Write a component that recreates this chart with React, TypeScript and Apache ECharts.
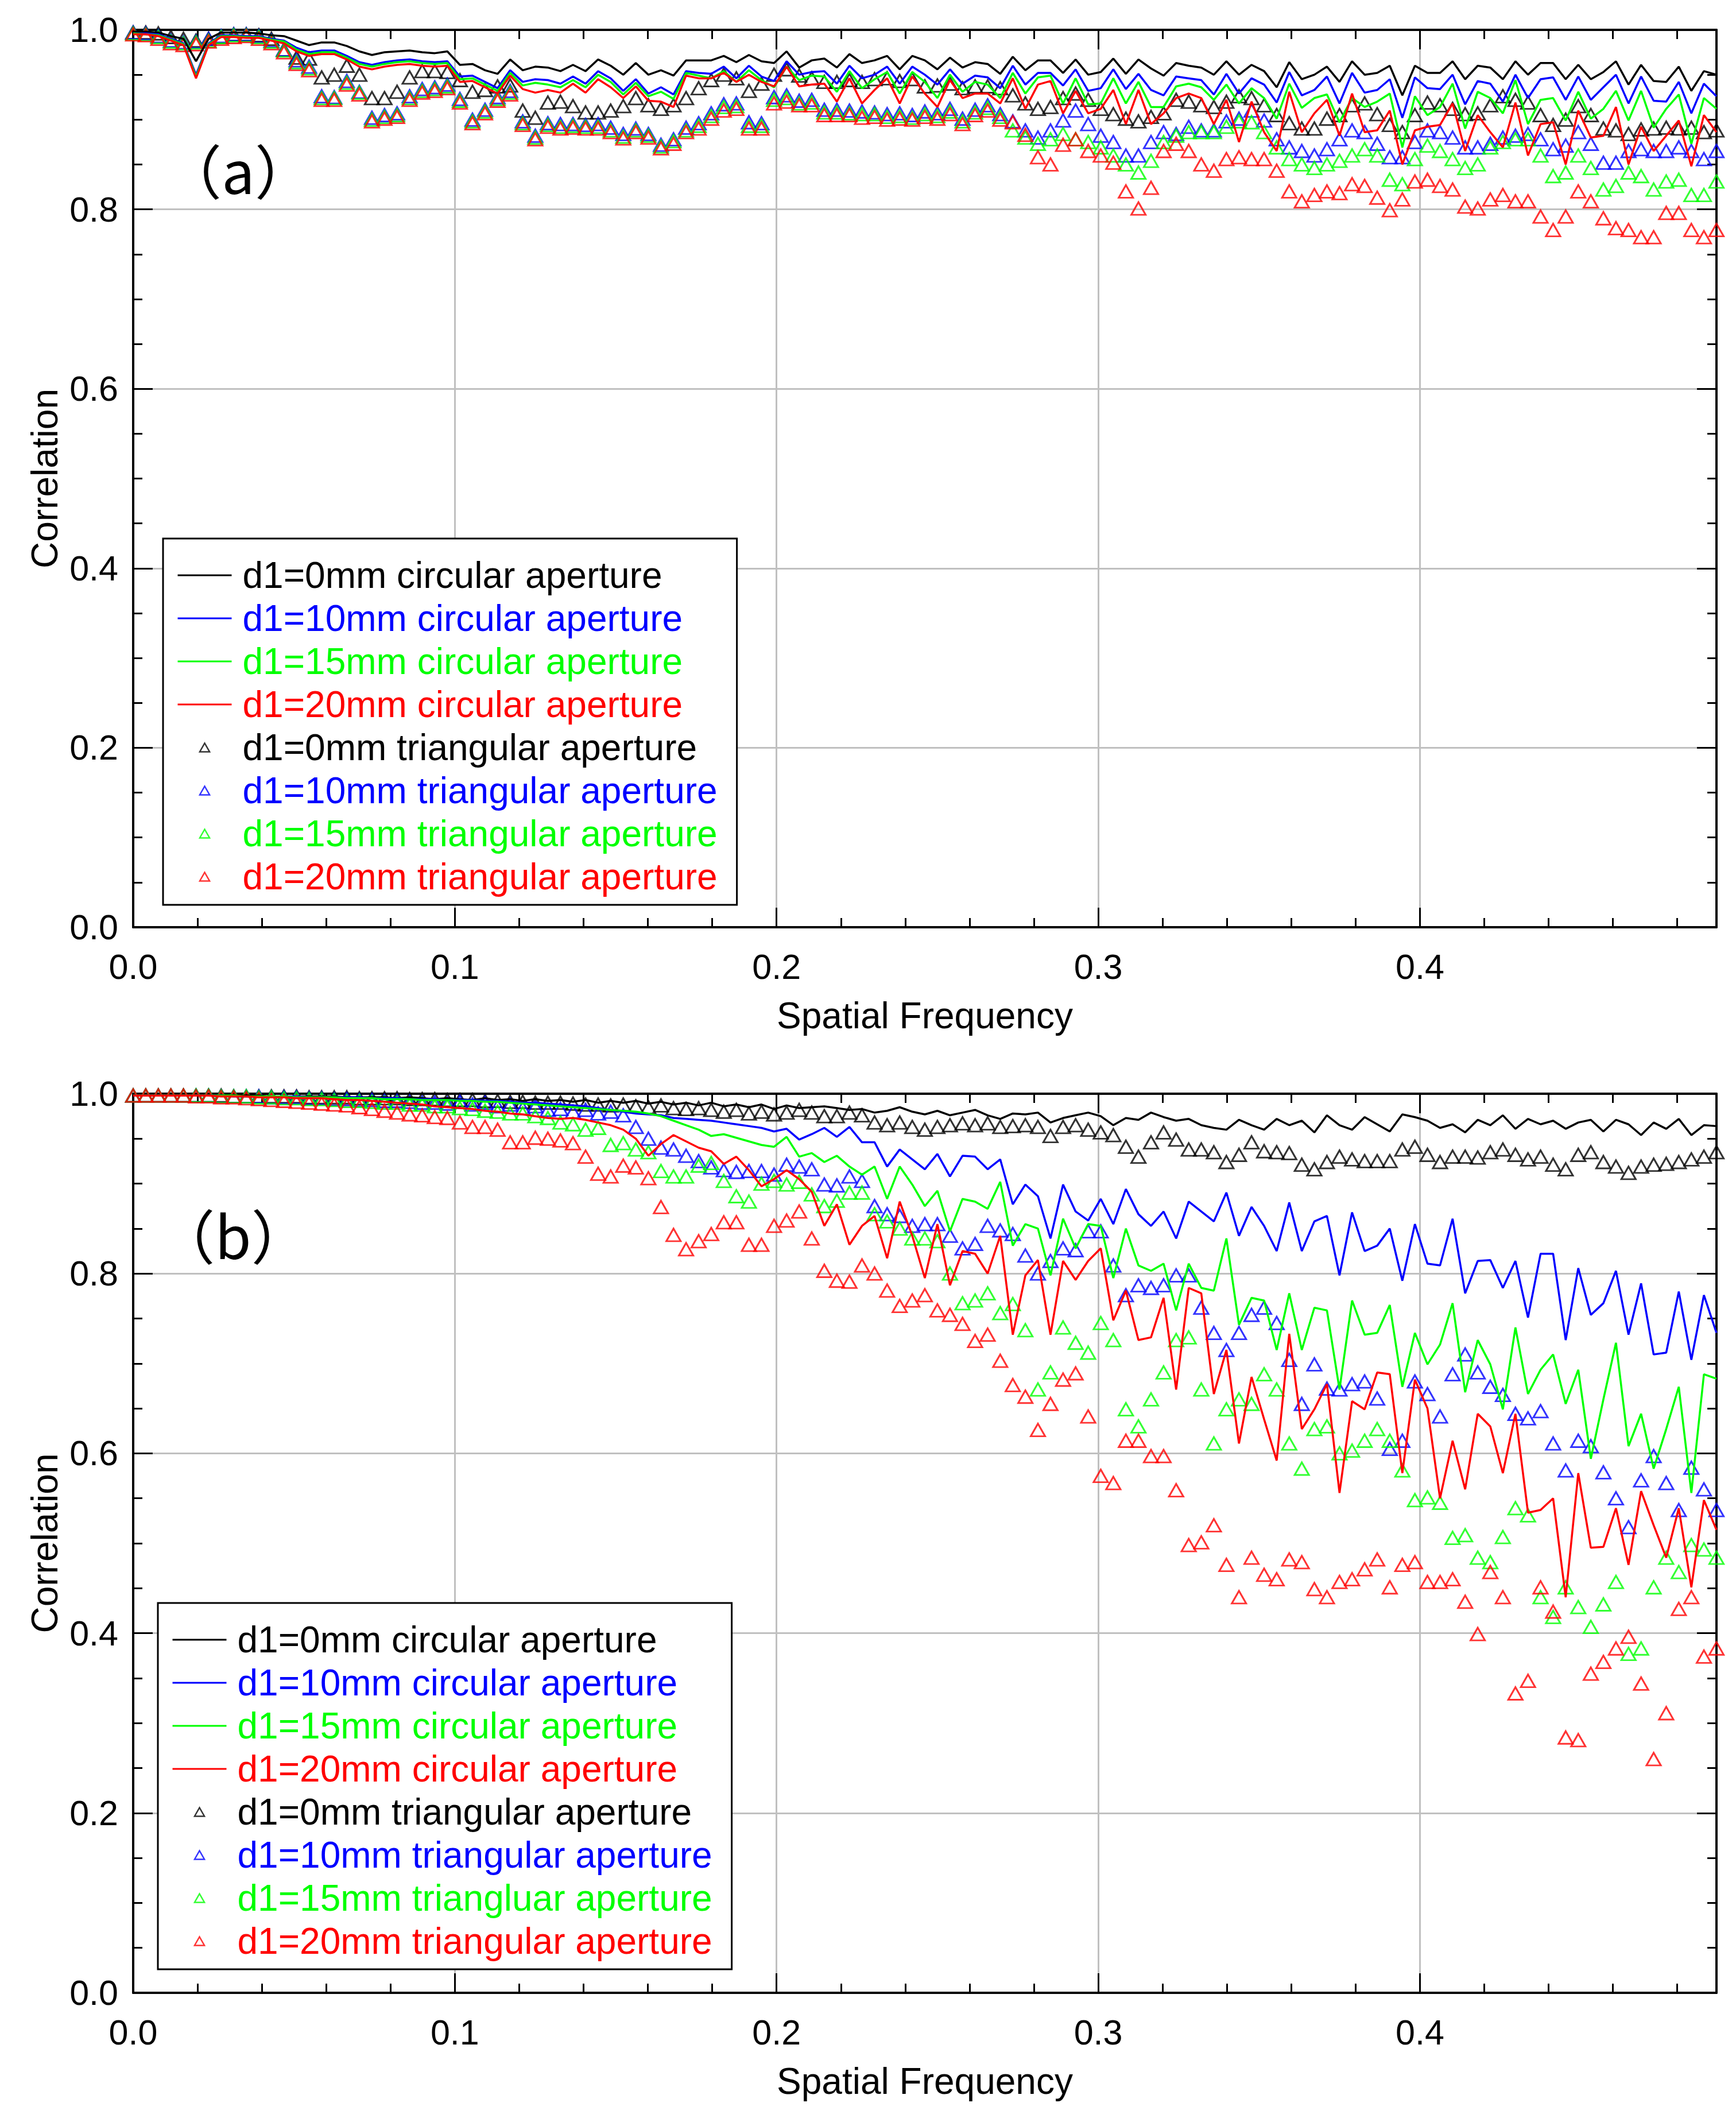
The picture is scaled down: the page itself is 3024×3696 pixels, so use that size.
import { useEffect, useRef } from "react";
import * as echarts from "echarts";

// sample spacing of the spatial frequency axis (k / 256, k = 0..126)
const FREQ_STEP = 1 / 256;
const FREQ_MAX = 126 / 256;

const colors = ["#000000", "#0000ff", "#00ff00", "#ff0000"];

const namesA = [
  "d1=0mm circular aperture",
  "d1=10mm circular aperture",
  "d1=15mm circular aperture",
  "d1=20mm circular aperture",
  "d1=0mm triangular aperture",
  "d1=10mm triangular aperture",
  "d1=15mm triangular aperture",
  "d1=20mm triangular aperture",
];
const namesB = [
  "d1=0mm circular aperture",
  "d1=10mm circular aperture",
  "d1=15mm circular aperture",
  "d1=20mm circular aperture",
  "d1=0mm triangular aperture",
  "d1=10mm triangular aperture",
  "d1=15mm triangluar aperture",
  "d1=20mm triangular aperture",
];

// ---- panel (a) ----
const circA0 = [
  0.998, 0.998, 0.997, 0.993, 0.990, 0.965, 0.990, 0.997, 0.997, 0.997, 0.996, 0.994, 0.993, 0.988, 0.983, 0.986, 0.986, 0.982, 0.976, 0.972,
  0.975, 0.976, 0.977, 0.975, 0.974, 0.976, 0.961, 0.962, 0.955, 0.951, 0.967, 0.955, 0.959, 0.958, 0.954, 0.961, 0.954, 0.967, 0.960, 0.950, 0.963,
  0.950, 0.955, 0.949, 0.966, 0.966, 0.966, 0.971, 0.964, 0.972, 0.965, 0.963, 0.976, 0.958, 0.966, 0.968, 0.958, 0.973, 0.963, 0.966, 0.971,
  0.956, 0.971, 0.966, 0.956, 0.969, 0.958, 0.964, 0.962, 0.951, 0.970, 0.955, 0.966, 0.966, 0.952, 0.967, 0.950, 0.953, 0.968, 0.951, 0.967,
  0.957, 0.949, 0.963,
  0.960, 0.958, 0.950, 0.965, 0.950, 0.961, 0.954, 0.936, 0.964, 0.945, 0.950, 0.959, 0.942, 0.965, 0.950, 0.952, 0.960, 0.927, 0.960, 0.952,
  0.952, 0.965, 0.945, 0.960, 0.958, 0.945, 0.965, 0.950, 0.963, 0.963, 0.945, 0.961, 0.945, 0.953, 0.965, 0.939, 0.961, 0.943, 0.942, 0.959,
  0.932, 0.954, 0.950,
];
const circA10 = [
  0.996, 0.996, 0.995, 0.990, 0.985, 0.950, 0.985, 0.994, 0.994, 0.993, 0.993, 0.990, 0.988, 0.980, 0.975, 0.977, 0.977, 0.971, 0.964, 0.961,
  0.964, 0.966, 0.967, 0.965, 0.964, 0.965, 0.948, 0.949, 0.942, 0.935, 0.955, 0.942, 0.945, 0.944, 0.940, 0.948, 0.940, 0.954, 0.946, 0.932, 0.945,
  0.929, 0.936, 0.928, 0.954, 0.952, 0.951, 0.959, 0.946, 0.960, 0.948, 0.943, 0.965, 0.950, 0.953, 0.954, 0.940, 0.960, 0.946, 0.950, 0.959,
  0.940, 0.959, 0.950, 0.939, 0.956, 0.940, 0.949, 0.947, 0.935, 0.960, 0.939, 0.952, 0.952, 0.938, 0.956, 0.932, 0.935, 0.956, 0.934, 0.951,
  0.933, 0.927, 0.948,
  0.946, 0.944, 0.928, 0.951, 0.929, 0.946, 0.939, 0.919, 0.953, 0.927, 0.933, 0.948, 0.918, 0.952, 0.930, 0.933, 0.945, 0.902, 0.947, 0.935,
  0.934, 0.950, 0.917, 0.943, 0.940, 0.920, 0.950, 0.924, 0.945, 0.947, 0.922, 0.948, 0.922, 0.936, 0.950, 0.918, 0.948, 0.921, 0.920, 0.942,
  0.907, 0.940, 0.926,
];
const circA15 = [
  0.996, 0.995, 0.994, 0.989, 0.984, 0.948, 0.984, 0.993, 0.993, 0.992, 0.992, 0.989, 0.987, 0.978, 0.973, 0.975, 0.975, 0.969, 0.962, 0.959,
  0.962, 0.964, 0.965, 0.963, 0.962, 0.963, 0.945, 0.946, 0.939, 0.932, 0.952, 0.938, 0.941, 0.939, 0.936, 0.944, 0.936, 0.950, 0.942, 0.928, 0.941,
  0.926, 0.931, 0.923, 0.952, 0.949, 0.946, 0.954, 0.942, 0.955, 0.944, 0.936, 0.959, 0.944, 0.949, 0.948, 0.931, 0.954, 0.935, 0.945, 0.953,
  0.929, 0.953, 0.942, 0.924, 0.950, 0.931, 0.942, 0.939, 0.924, 0.952, 0.929, 0.947, 0.949, 0.918, 0.946, 0.917, 0.918, 0.946, 0.918, 0.942,
  0.914, 0.914, 0.937,
  0.940, 0.936, 0.922, 0.939, 0.918, 0.935, 0.924, 0.901, 0.940, 0.913, 0.924, 0.928, 0.897, 0.924, 0.914, 0.920, 0.929, 0.869, 0.926, 0.905,
  0.914, 0.940, 0.890, 0.931, 0.924, 0.907, 0.944, 0.895, 0.922, 0.924, 0.899, 0.931, 0.901, 0.912, 0.932, 0.899, 0.932, 0.891, 0.912, 0.928,
  0.873, 0.924, 0.912,
];
const circA20 = [
  0.995, 0.995, 0.993, 0.988, 0.983, 0.946, 0.983, 0.992, 0.992, 0.991, 0.991, 0.988, 0.985, 0.976, 0.971, 0.973, 0.973, 0.967, 0.959, 0.956,
  0.959, 0.961, 0.962, 0.960, 0.959, 0.960, 0.942, 0.943, 0.936, 0.929, 0.949, 0.934, 0.930, 0.933, 0.930, 0.940, 0.930, 0.945, 0.936, 0.924, 0.937,
  0.921, 0.920, 0.914, 0.949, 0.946, 0.946, 0.952, 0.942, 0.950, 0.942, 0.937, 0.959, 0.937, 0.939, 0.940, 0.920, 0.946, 0.918, 0.933, 0.946,
  0.918, 0.948, 0.929, 0.914, 0.944, 0.924, 0.929, 0.929, 0.918, 0.946, 0.912, 0.939, 0.943, 0.907, 0.932, 0.907, 0.912, 0.933, 0.895, 0.933,
  0.895, 0.907, 0.924,
  0.929, 0.924, 0.895, 0.922, 0.875, 0.920, 0.886, 0.865, 0.931, 0.886, 0.907, 0.922, 0.882, 0.929, 0.886, 0.888, 0.910, 0.850, 0.888, 0.892,
  0.894, 0.918, 0.865, 0.905, 0.886, 0.869, 0.919, 0.860, 0.895, 0.897, 0.850, 0.910, 0.880, 0.882, 0.914, 0.850, 0.892, 0.865, 0.882, 0.899,
  0.848, 0.905, 0.886,
];
const triA0 = [
  0.997, 0.997, 0.996, 0.992, 0.990, 0.988, 0.990, 0.992, 0.995, 0.995, 0.994, 0.990, 0.978, 0.969, 0.968, 0.947, 0.950, 0.960, 0.950, 0.924,
  0.924, 0.931, 0.947, 0.954, 0.954, 0.953, 0.944, 0.931, 0.933, 0.937, 0.938, 0.910, 0.902, 0.919, 0.920, 0.915, 0.908, 0.908, 0.910, 0.915, 0.924,
  0.916, 0.912, 0.916, 0.924, 0.935, 0.944, 0.950, 0.946, 0.932, 0.940, 0.950, 0.956, 0.949, 0.946, 0.942, 0.942, 0.944, 0.942, 0.945, 0.946,
  0.943, 0.945, 0.937, 0.938, 0.940, 0.935, 0.937, 0.937, 0.935, 0.927, 0.918, 0.912, 0.914, 0.924, 0.929, 0.922, 0.912, 0.906, 0.901, 0.898,
  0.903, 0.907, 0.922,
  0.920, 0.916, 0.914, 0.920, 0.926, 0.924, 0.916, 0.905, 0.896, 0.890, 0.890, 0.901, 0.905, 0.916, 0.918, 0.906, 0.894, 0.886, 0.905, 0.919,
  0.916, 0.912, 0.906, 0.907, 0.916, 0.926, 0.922, 0.919, 0.905, 0.894, 0.900, 0.915, 0.905, 0.890, 0.888, 0.884, 0.889, 0.890, 0.891, 0.890,
  0.891, 0.886, 0.888,
];
const triA10 = [
  0.997, 0.996, 0.993, 0.988, 0.986, 0.987, 0.990, 0.993, 0.995, 0.995, 0.993, 0.988, 0.978, 0.966, 0.959, 0.926, 0.925, 0.943, 0.931, 0.902,
  0.905, 0.907, 0.926, 0.934, 0.936, 0.939, 0.923, 0.900, 0.911, 0.925, 0.932, 0.898, 0.882, 0.896, 0.895, 0.895, 0.894, 0.895, 0.891, 0.884,
  0.890, 0.884, 0.872, 0.878, 0.891, 0.896, 0.907, 0.917, 0.918, 0.897, 0.896, 0.925, 0.927, 0.921, 0.922, 0.911, 0.911, 0.910, 0.909, 0.908,
  0.906, 0.907, 0.905, 0.909, 0.907, 0.912, 0.901, 0.911, 0.916, 0.906,
  0.898, 0.888, 0.880, 0.888, 0.899, 0.910, 0.895, 0.882, 0.875, 0.860, 0.860, 0.875, 0.886, 0.884,
  0.892, 0.888, 0.888, 0.898, 0.901, 0.910, 0.899, 0.878, 0.869, 0.865, 0.860, 0.867, 0.878, 0.888, 0.886, 0.873, 0.858, 0.858, 0.875, 0.888,
  0.886, 0.880, 0.869, 0.869, 0.873, 0.880, 0.882, 0.884, 0.878, 0.867, 0.871, 0.886, 0.873, 0.852, 0.852, 0.865, 0.867, 0.865, 0.865, 0.869,
  0.865, 0.856, 0.865,
];
const triA15 = [
  0.996, 0.995, 0.992, 0.987, 0.985, 0.986, 0.988, 0.992, 0.994, 0.994, 0.992, 0.987, 0.977, 0.964, 0.957, 0.924, 0.924, 0.941, 0.930, 0.900,
  0.903, 0.905, 0.924, 0.932, 0.934, 0.937, 0.921, 0.898, 0.909, 0.923, 0.930, 0.896, 0.880, 0.894, 0.892, 0.893, 0.892, 0.892, 0.888, 0.881,
  0.888, 0.882, 0.870, 0.876, 0.888, 0.893, 0.904, 0.914, 0.915, 0.893, 0.893, 0.922, 0.924, 0.918, 0.919, 0.908, 0.908, 0.907, 0.906, 0.906,
  0.903, 0.904, 0.902, 0.906, 0.904, 0.909, 0.898, 0.908, 0.913, 0.903,
  0.888, 0.880, 0.873, 0.878, 0.884, 0.878, 0.875, 0.869, 0.860, 0.850, 0.841, 0.854, 0.875, 0.882,
  0.886, 0.886, 0.886, 0.892, 0.898, 0.897, 0.886, 0.869, 0.856, 0.850, 0.846, 0.850, 0.854, 0.860, 0.867, 0.860, 0.833, 0.828, 0.856, 0.871,
  0.865, 0.856, 0.846, 0.850, 0.869, 0.875, 0.878, 0.878, 0.860, 0.837, 0.841, 0.860, 0.846, 0.822, 0.826, 0.841, 0.837, 0.822, 0.831, 0.833,
  0.816, 0.816, 0.831,
];
const triA20 = [
  0.995, 0.994, 0.990, 0.985, 0.983, 0.984, 0.987, 0.990, 0.992, 0.993, 0.990, 0.985, 0.975, 0.962, 0.955, 0.922, 0.922, 0.939, 0.928, 0.898,
  0.901, 0.903, 0.922, 0.930, 0.932, 0.935, 0.919, 0.896, 0.907, 0.921, 0.928, 0.894, 0.878, 0.892, 0.890, 0.891, 0.890, 0.890, 0.886, 0.879,
  0.886, 0.880, 0.868, 0.873, 0.886, 0.890, 0.901, 0.910, 0.912, 0.890, 0.890, 0.918, 0.920, 0.916, 0.916, 0.905, 0.905, 0.905, 0.902, 0.903,
  0.900, 0.901, 0.900, 0.903, 0.901, 0.906, 0.895, 0.905, 0.910, 0.900,
  0.897, 0.883, 0.858, 0.850, 0.872, 0.878, 0.865, 0.860, 0.852, 0.820, 0.801, 0.824, 0.865, 0.873,
  0.865, 0.850, 0.843, 0.856, 0.858, 0.856, 0.856, 0.843, 0.820, 0.809, 0.816, 0.820, 0.818, 0.828, 0.826, 0.813, 0.799, 0.811, 0.831, 0.833,
  0.826, 0.822, 0.803, 0.801, 0.811, 0.816, 0.809, 0.809, 0.792, 0.777, 0.792, 0.820, 0.809, 0.790, 0.779, 0.777, 0.769, 0.769, 0.796, 0.796,
  0.777, 0.769, 0.777,
];

// ---- panel (b) ----
const circB0 = [
  0.998, 0.998, 0.998, 0.998, 0.998, 0.998, 0.998, 0.998, 0.998, 0.998, 0.998, 0.997, 0.997, 0.997, 0.997, 0.997, 0.997, 0.996, 0.996, 0.996,
  0.996, 0.995, 0.996, 0.995, 0.994, 0.995, 0.994, 0.993, 0.995, 0.993, 0.994, 0.992, 0.994, 0.992, 0.993, 0.991, 0.993, 0.990, 0.992, 0.990,
  0.992, 0.989, 0.991, 0.988, 0.990, 0.987, 0.990, 0.986, 0.988, 0.985, 0.988, 0.983, 0.987, 0.984,
  0.985, 0.986, 0.984, 0.982, 0.983, 0.979, 0.981, 0.985, 0.980, 0.977, 0.981, 0.976, 0.979, 0.982, 0.976, 0.972, 0.978, 0.977, 0.979, 0.968,
  0.973, 0.976, 0.979, 0.975, 0.965, 0.973, 0.971, 0.979, 0.974, 0.970, 0.972, 0.965, 0.962, 0.960, 0.971, 0.965, 0.960, 0.972, 0.965, 0.970,
  0.957, 0.976, 0.965, 0.960, 0.974, 0.966, 0.958, 0.977, 0.974, 0.970, 0.962, 0.966, 0.957, 0.971, 0.965, 0.976, 0.961, 0.972, 0.966, 0.970,
  0.961, 0.968, 0.971, 0.958, 0.971, 0.966, 0.954, 0.968, 0.961, 0.972, 0.954, 0.965, 0.964,
];
const circB10 = [
  0.998, 0.998, 0.998, 0.998, 0.998, 0.998, 0.998, 0.998, 0.997, 0.997, 0.997, 0.997, 0.997, 0.997, 0.996, 0.996, 0.996, 0.996, 0.996, 0.995,
  0.995, 0.995, 0.994, 0.994, 0.994, 0.993, 0.993, 0.993, 0.992, 0.992, 0.991, 0.990, 0.990, 0.989, 0.988, 0.987, 0.986, 0.984, 0.982, 0.980,
  0.978, 0.977, 0.976, 0.973, 0.972, 0.971, 0.970, 0.968, 0.966, 0.964, 0.962, 0.958, 0.961,
  0.949, 0.955, 0.962, 0.952, 0.963, 0.946, 0.946, 0.919, 0.938, 0.927, 0.916, 0.933, 0.908, 0.931, 0.930, 0.916, 0.927, 0.877, 0.899, 0.886,
  0.839, 0.899, 0.869, 0.859, 0.883, 0.855, 0.894, 0.866, 0.853, 0.869, 0.839, 0.880, 0.869, 0.858, 0.890, 0.842, 0.874, 0.853, 0.825, 0.879,
  0.825, 0.858, 0.864, 0.798, 0.868, 0.825, 0.831, 0.850, 0.792, 0.855, 0.811, 0.809, 0.861, 0.778, 0.814, 0.815, 0.784, 0.814, 0.751, 0.822,
  0.822, 0.726, 0.806, 0.754, 0.767, 0.803, 0.732, 0.789, 0.710, 0.712, 0.780, 0.704, 0.776, 0.734,
];
const circB15 = [
  0.998, 0.998, 0.998, 0.998, 0.998, 0.998, 0.998, 0.998, 0.998, 0.997, 0.997, 0.997, 0.997, 0.996, 0.996, 0.996, 0.996, 0.995, 0.995, 0.995,
  0.994, 0.994, 0.994, 0.993, 0.993, 0.993, 0.992, 0.992, 0.991, 0.991, 0.990, 0.989, 0.988, 0.987, 0.986, 0.985, 0.984, 0.983, 0.982, 0.981,
  0.980, 0.978, 0.975, 0.970, 0.965, 0.960, 0.953, 0.955, 0.951, 0.947, 0.943, 0.941, 0.952,
  0.930, 0.934, 0.924, 0.931, 0.919, 0.910, 0.919, 0.883, 0.919, 0.899, 0.875, 0.892, 0.847, 0.883, 0.880, 0.872, 0.902, 0.831, 0.855, 0.850,
  0.798, 0.861, 0.828, 0.855, 0.853, 0.795, 0.850, 0.809, 0.803, 0.811, 0.759, 0.811, 0.784, 0.781, 0.839, 0.743, 0.773, 0.770, 0.715, 0.778,
  0.715, 0.762, 0.759, 0.671, 0.770, 0.732, 0.734, 0.765, 0.674, 0.734, 0.699, 0.721, 0.767, 0.668, 0.726, 0.699, 0.649, 0.740, 0.666, 0.693,
  0.710, 0.655, 0.693, 0.594, 0.660, 0.723, 0.608, 0.644, 0.583, 0.627, 0.674, 0.556, 0.688, 0.683,
];
const circB20 = [
  0.998, 0.998, 0.998, 0.998, 0.998, 0.998, 0.998, 0.997, 0.997, 0.997, 0.996, 0.996, 0.996, 0.995, 0.995, 0.995, 0.994, 0.993, 0.993, 0.992,
  0.991, 0.990, 0.989, 0.988, 0.986, 0.985, 0.984, 0.983, 0.981, 0.980, 0.978, 0.977, 0.975, 0.973, 0.972, 0.973, 0.971, 0.968, 0.965, 0.960,
  0.950, 0.931, 0.944, 0.954, 0.947, 0.940, 0.936, 0.922, 0.930, 0.915, 0.897, 0.905, 0.915,
  0.905, 0.891, 0.853, 0.877, 0.832, 0.853, 0.864, 0.817, 0.880, 0.842, 0.795, 0.855, 0.787, 0.825, 0.822, 0.800, 0.842, 0.732, 0.798, 0.815,
  0.732, 0.814, 0.793, 0.814, 0.828, 0.748, 0.781, 0.726, 0.729, 0.773, 0.671, 0.784, 0.778, 0.666, 0.715, 0.611, 0.685, 0.638, 0.592, 0.733,
  0.627, 0.649, 0.677, 0.556, 0.658, 0.649, 0.690, 0.688, 0.578, 0.682, 0.650, 0.550, 0.614, 0.560, 0.644, 0.630, 0.578, 0.644, 0.534, 0.537,
  0.550, 0.440, 0.578, 0.495, 0.496, 0.539, 0.476, 0.558, 0.520, 0.484, 0.539, 0.451, 0.548, 0.515,
];
const triB0 = [
  0.998, 0.998, 0.998, 0.998, 0.998, 0.998, 0.998, 0.998, 0.997, 0.997, 0.997, 0.997, 0.997, 0.997, 0.996, 0.996, 0.996, 0.996, 0.995, 0.995,
  0.995, 0.995, 0.994, 0.994, 0.994, 0.993, 0.993, 0.993, 0.992, 0.992, 0.991, 0.991, 0.990, 0.990, 0.990, 0.989, 0.988, 0.988, 0.987, 0.988,
  0.986, 0.985, 0.987, 0.984, 0.983, 0.984, 0.982, 0.980, 0.982, 0.978, 0.980, 0.977, 0.979,
  0.982, 0.979, 0.975, 0.975, 0.979, 0.976, 0.968, 0.965, 0.968, 0.963, 0.960, 0.963, 0.965, 0.967, 0.965, 0.967, 0.963, 0.964, 0.965, 0.963,
  0.953, 0.963, 0.965, 0.960, 0.957, 0.954, 0.941, 0.930, 0.946, 0.957, 0.949, 0.938, 0.938, 0.935, 0.924, 0.932, 0.946, 0.936, 0.935, 0.934,
  0.921, 0.916, 0.924, 0.930, 0.927, 0.925, 0.925, 0.925, 0.938, 0.941, 0.932, 0.924, 0.930, 0.930, 0.929, 0.935, 0.938, 0.932, 0.927, 0.930,
  0.921, 0.916, 0.932, 0.935, 0.924, 0.919, 0.912, 0.919, 0.921, 0.922, 0.924, 0.927, 0.930, 0.935,
];
const triB10 = [
  0.998, 0.998, 0.998, 0.998, 0.998, 0.998, 0.998, 0.997, 0.997, 0.997, 0.997, 0.996, 0.996, 0.996, 0.995, 0.995, 0.994, 0.994, 0.993, 0.993,
  0.992, 0.992, 0.991, 0.990, 0.990, 0.989, 0.991, 0.988, 0.990, 0.986, 0.988, 0.984, 0.986, 0.982, 0.983, 0.980, 0.982, 0.978, 0.980, 0.976,
  0.963, 0.950, 0.940, 0.938, 0.931, 0.925, 0.918, 0.915, 0.913, 0.914, 0.914, 0.910, 0.921,
  0.919, 0.916, 0.899, 0.898, 0.908, 0.903, 0.875, 0.866, 0.864, 0.853, 0.855, 0.855, 0.842, 0.828, 0.833, 0.853, 0.848, 0.844, 0.820, 0.800,
  0.814, 0.828, 0.826, 0.847, 0.847, 0.809, 0.776, 0.787, 0.784, 0.787, 0.798, 0.798, 0.762, 0.734, 0.715, 0.734, 0.754, 0.762, 0.745, 0.704,
  0.655, 0.699, 0.672, 0.671, 0.677, 0.680, 0.661, 0.605, 0.614, 0.680, 0.666, 0.641, 0.688, 0.710, 0.690, 0.674, 0.665, 0.644, 0.639, 0.647,
  0.611, 0.581, 0.614, 0.608, 0.579, 0.550, 0.518, 0.570, 0.597, 0.567, 0.537, 0.584, 0.560, 0.537,
];
const triB15 = [
  0.998, 0.998, 0.998, 0.998, 0.998, 0.998, 0.998, 0.997, 0.997, 0.997, 0.996, 0.996, 0.995, 0.995, 0.994, 0.994, 0.993, 0.992, 0.992, 0.991,
  0.990, 0.990, 0.988, 0.988, 0.986, 0.986, 0.984, 0.983, 0.981, 0.980, 0.978, 0.978, 0.975, 0.973, 0.968, 0.966, 0.960, 0.962, 0.943, 0.945,
  0.938, 0.935, 0.914, 0.908, 0.908, 0.920, 0.923, 0.903, 0.886, 0.880, 0.900, 0.903, 0.899,
  0.902, 0.888, 0.875, 0.881, 0.890, 0.890, 0.866, 0.858, 0.850, 0.839, 0.839, 0.836, 0.800, 0.767, 0.770, 0.778, 0.756, 0.766, 0.737, 0.671,
  0.690, 0.740, 0.723, 0.712, 0.745, 0.726, 0.649, 0.630, 0.660, 0.690, 0.726, 0.729, 0.671, 0.611, 0.649, 0.660, 0.655, 0.688, 0.671, 0.611,
  0.583, 0.627, 0.630, 0.600, 0.603, 0.614, 0.627, 0.614, 0.581, 0.548, 0.551, 0.545, 0.506, 0.509, 0.484, 0.479, 0.507, 0.539, 0.531, 0.440,
  0.418, 0.451, 0.429, 0.407, 0.432, 0.457, 0.377, 0.383, 0.451, 0.484, 0.468, 0.498, 0.493, 0.484,
];
const triB20 = [
  0.998, 0.998, 0.998, 0.998, 0.998, 0.997, 0.997, 0.996, 0.996, 0.995, 0.994, 0.993, 0.992,
  0.991, 0.990, 0.989, 0.988, 0.987, 0.985, 0.983, 0.981, 0.979, 0.977, 0.976, 0.974, 0.973, 0.968, 0.963, 0.963, 0.960, 0.946, 0.946, 0.951,
  0.950, 0.948, 0.945, 0.930, 0.911, 0.908, 0.920, 0.918, 0.906, 0.874, 0.843, 0.827, 0.836, 0.844, 0.857, 0.857, 0.832, 0.832, 0.853, 0.859,
  0.869, 0.839, 0.803, 0.792, 0.791, 0.809, 0.800, 0.781, 0.764, 0.770, 0.776, 0.759, 0.754, 0.744, 0.725, 0.732, 0.703, 0.676, 0.663, 0.626,
  0.655, 0.682, 0.689, 0.641, 0.575, 0.567, 0.614, 0.614, 0.597, 0.597, 0.559, 0.498, 0.501, 0.520, 0.476, 0.440, 0.484, 0.465, 0.460, 0.482,
  0.479, 0.449, 0.440, 0.457, 0.460, 0.471, 0.482, 0.451, 0.476, 0.479, 0.457, 0.457, 0.460, 0.435, 0.399, 0.468, 0.440, 0.333, 0.347, 0.451,
  0.424, 0.284, 0.281, 0.355, 0.368, 0.383, 0.396, 0.344, 0.260, 0.311, 0.427, 0.440, 0.374, 0.383,
];

const FONT = "'Liberation Sans', Arial, sans-serif";
const BLACK = "#000";
const GRID_GRAY = "#c0c0c0";
// small open triangle used as the legend key of the triangular-aperture series
const LEGEND_TRIANGLE = "path://M0,14L8,0L16,14Z";

const toPoints = (values: number[]) => values.map((v, i) => [i * FREQ_STEP, v]);

function xAxesFor(gridIndex: number) {
  const line = (show: boolean) => ({ show, onZero: false, lineStyle: { color: BLACK, width: 4 } });
  const tick = (length: number) => ({ show: true, inside: true, length, lineStyle: { color: BLACK, width: 3 } });
  const base = { type: "value", gridIndex, min: 0, max: FREQ_MAX };
  return [
    {
      ...base,
      position: "bottom",
      interval: 0.1,
      axisLine: line(true),
      axisTick: tick(34),
      axisLabel: {
        fontSize: 61,
        fontFamily: FONT,
        color: BLACK,
        margin: 38,
        showMaxLabel: false,
        formatter: (v: number) => v.toFixed(1),
      },
      splitLine: { show: true, lineStyle: { color: GRID_GRAY, width: 3 } },
      name: "Spatial Frequency",
      nameLocation: "middle",
      nameGap: 122,
      nameTextStyle: { fontSize: 64, fontFamily: FONT, color: BLACK },
    },
    {
      ...base,
      position: "bottom",
      interval: 0.02,
      axisLine: line(false),
      axisTick: tick(16),
      axisLabel: { show: false },
      splitLine: { show: false },
    },
    {
      ...base,
      position: "top",
      interval: 0.1,
      axisLine: line(true),
      axisTick: tick(34),
      axisLabel: { show: false },
      splitLine: { show: false },
    },
    {
      ...base,
      position: "top",
      interval: 0.02,
      axisLine: line(false),
      axisTick: tick(16),
      axisLabel: { show: false },
      splitLine: { show: false },
    },
  ];
}

function yAxesFor(gridIndex: number) {
  const common = {
    type: "value",
    gridIndex,
    min: 0,
    max: 1,
    interval: 0.2,
    axisLine: { show: true, onZero: false, lineStyle: { color: BLACK, width: 4 } },
    axisTick: { show: true, inside: true, length: 34, lineStyle: { color: BLACK, width: 3 } },
    minorTick: { show: true, splitNumber: 4, length: 16, lineStyle: { color: BLACK, width: 3 } },
  };
  return [
    {
      ...common,
      position: "left",
      axisLabel: { fontSize: 61, fontFamily: FONT, color: BLACK, margin: 26, formatter: (v: number) => v.toFixed(1) },
      splitLine: { show: true, lineStyle: { color: GRID_GRAY, width: 3 } },
      name: "Correlation",
      nameLocation: "middle",
      nameRotate: 90,
      nameGap: 120,
      nameTextStyle: { fontSize: 64, fontFamily: FONT, color: BLACK },
    },
    { ...common, position: "right", axisLabel: { show: false }, splitLine: { show: false } },
  ];
}

function panelSeries(names: string[], lines: number[][], tris: number[][], xAxisIndex: number, yAxisIndex: number) {
  const out: any[] = [];
  lines.forEach((vals, i) => {
    out.push({
      name: names[i],
      type: "line",
      xAxisIndex,
      yAxisIndex,
      data: toPoints(vals),
      symbol: "none",
      lineStyle: { color: colors[i], width: 3.5 },
      itemStyle: { color: colors[i] },
      silent: true,
    });
  });
  tris.forEach((vals, i) => {
    out.push({
      name: names[i + 4],
      type: "scatter",
      xAxisIndex,
      yAxisIndex,
      data: toPoints(vals),
      symbol: "triangle",
      symbolSize: [25, 22],
      itemStyle: { color: "transparent", borderColor: colors[i], borderWidth: 3 },
      silent: true,
    });
  });
  return out;
}

function legendFor(names: string[], left: number, top: number) {
  return {
    orient: "vertical",
    left,
    top,
    selectedMode: false,
    backgroundColor: "#fff",
    borderColor: BLACK,
    borderWidth: 3,
    borderRadius: 0,
    padding: [32, 34, 17, 24],
    itemWidth: 94,
    itemHeight: 15,
    itemGap: 11,
    symbolKeepAspect: true,
    textStyle: { fontSize: 64, lineHeight: 64, fontFamily: FONT, padding: [0, 0, 0, 14] },
    data: names.map((name, i) =>
      i < 4
        ? {
            name,
            textStyle: { color: colors[i] },
            itemStyle: { color: "transparent", borderColor: "transparent", borderWidth: 0 },
            lineStyle: { color: colors[i], width: 3 },
          }
        : {
            name,
            icon: LEGEND_TRIANGLE,
            textStyle: { color: colors[i - 4] },
            itemStyle: { color: "transparent", borderColor: colors[i - 4], borderWidth: 2.5 },
          }
    ),
  };
}

export default function App() {
  const chartRef = useRef<HTMLDivElement>(null);

  useEffect(() => {
    if (!chartRef.current) return;
    const chart = echarts.init(chartRef.current, null, { renderer: "svg" });

    const option: any = {
      animation: false,
      backgroundColor: "#fff",
      grid: [
        { left: 232, top: 52, width: 2758, height: 1563 },
        { left: 232, top: 1905, width: 2758, height: 1566 },
      ],
      xAxis: [...xAxesFor(0), ...xAxesFor(1)],
      yAxis: [...yAxesFor(0), ...yAxesFor(1)],
      legend: [legendFor(namesA, 284, 938), legendFor(namesB, 275, 2792)],
      graphic: [
        {
          type: "text",
          x: 415,
          y: 293,
          style: { text: "（a）", fontSize: 102, fontFamily: "Noto Sans CJK SC", fill: BLACK, align: "center", verticalAlign: "middle" },
        },
        {
          type: "text",
          x: 406,
          y: 2148,
          style: { text: "（b）", fontSize: 102, fontFamily: "Noto Sans CJK SC", fill: BLACK, align: "center", verticalAlign: "middle" },
        },
      ],
      series: [
        ...panelSeries(namesA, [circA0, circA10, circA15, circA20], [triA0, triA10, triA15, triA20], 0, 0),
        ...panelSeries(namesB, [circB0, circB10, circB15, circB20], [triB0, triB10, triB15, triB20], 4, 2),
      ],
    };
    chart.setOption(option);

    return () => {
      chart.dispose();
    };
  }, []);

  return (
    <div
      ref={chartRef}
      style={{ position: "absolute", left: 0, top: 0, width: "3024px", height: "3696px", background: "#fff" }}
    />
  );
}
